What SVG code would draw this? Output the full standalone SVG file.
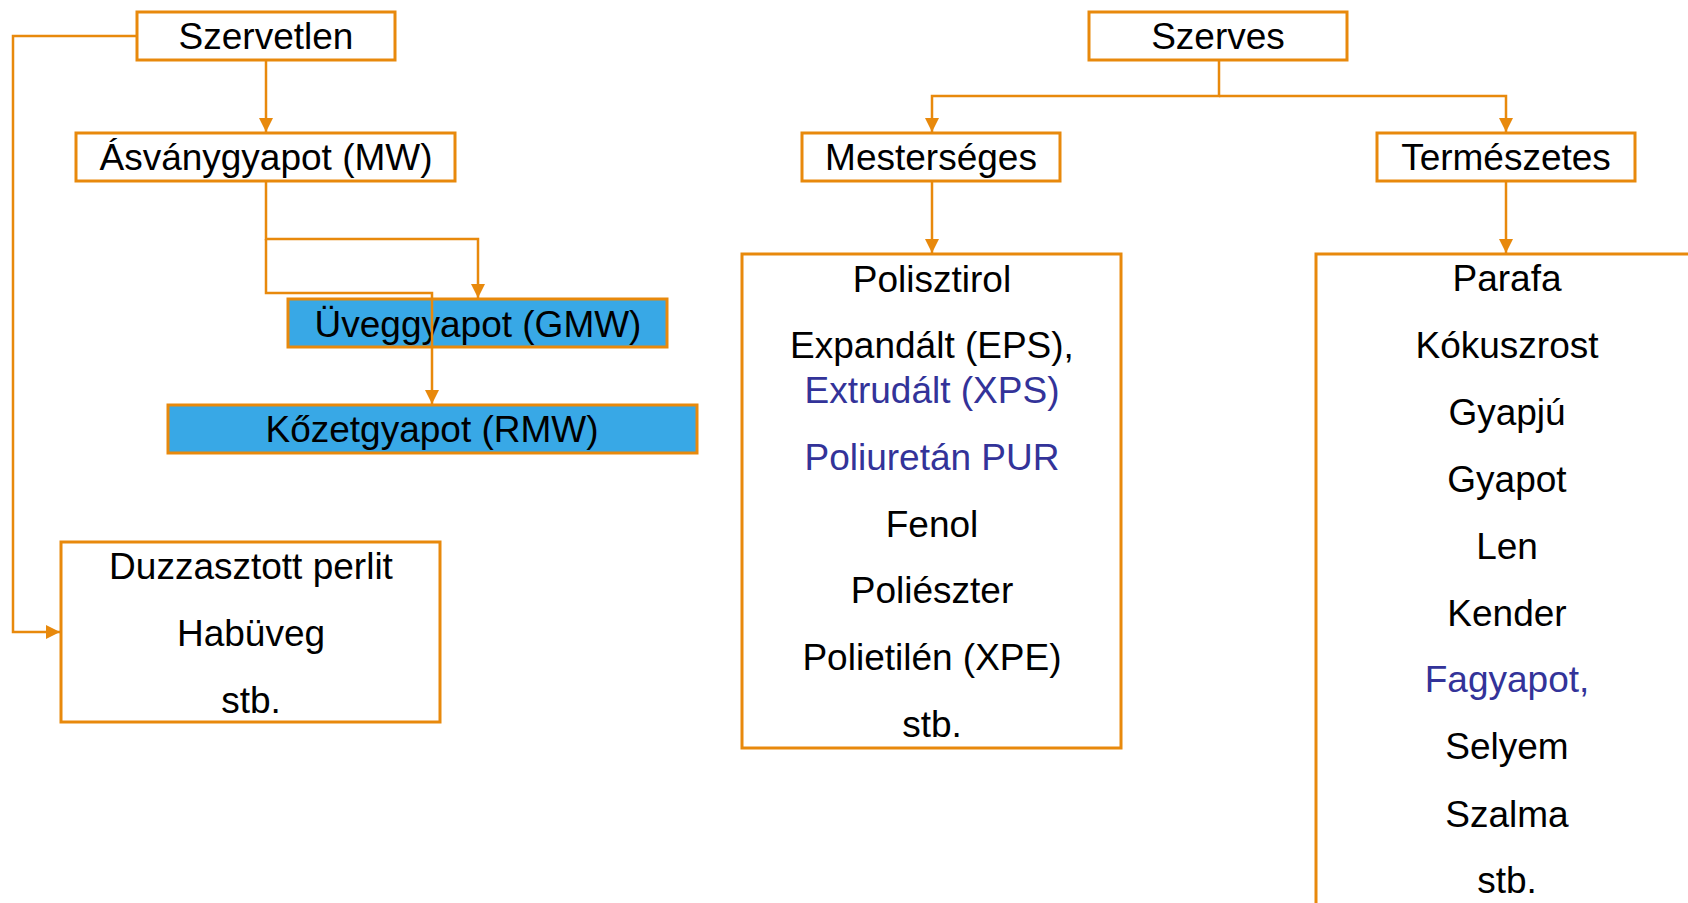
<svg xmlns="http://www.w3.org/2000/svg" width="1688" height="903" viewBox="0 0 1688 903">
<style>
.box{fill:#ffffff;stroke:#E8890C;stroke-width:3}
.blue{fill:#38A8E6;stroke:#E8890C;stroke-width:3}
.t{font-family:"Liberation Sans",Arial,sans-serif;font-size:37px;fill:#000;text-anchor:middle}
.b{fill:#333399}
.c{fill:none;stroke:#E8890C;stroke-width:2.5}
</style>
<defs>
<marker id="ah" markerUnits="userSpaceOnUse" markerWidth="14" markerHeight="14" refX="14" refY="7" orient="auto">
<path d="M0,0 L14,7 L0,14 z" fill="#E8890C"/>
</marker>
</defs>
<rect width="1688" height="903" fill="#fff"/>
<g id="szervetlen"><rect class="box" x="137" y="12" width="258" height="48"/><text class="t" x="266" y="49">Szervetlen</text></g>
<g id="asvanygyapot"><rect class="box" x="76" y="133" width="379" height="48"/><text class="t" x="266" y="170">Ásványgyapot (MW)</text></g>
<g id="uveggyapot"><rect class="blue" x="288" y="299" width="379" height="48"/><text class="t" x="478" y="337">Üveggyapot (GMW)</text></g>
<g id="kozetgyapot"><rect class="blue" x="168" y="405" width="529" height="48"/><text class="t" x="432" y="442">Kőzetgyapot (RMW)</text></g>
<g id="duzzasztott"><rect class="box" x="61" y="542" width="379" height="180"/>
<text class="t" x="251" y="579">Duzzasztott perlit</text>
<text class="t" x="251" y="646">Habüveg</text>
<text class="t" x="251" y="713">stb.</text></g>
<g id="szerves"><rect class="box" x="1089" y="12" width="258" height="48"/><text class="t" x="1218" y="49">Szerves</text></g>
<g id="mesterseges"><rect class="box" x="802" y="133" width="258" height="48"/><text class="t" x="931" y="170">Mesterséges</text></g>
<g id="termeszetes"><rect class="box" x="1377" y="133" width="258" height="48"/><text class="t" x="1506" y="170">Természetes</text></g>
<g id="mesterseges-lista"><rect class="box" x="742" y="254" width="379" height="494"/>
<text class="t" x="932" y="292">Polisztirol</text>
<text class="t" x="932" y="358">Expandált (EPS),</text>
<text class="t b" x="932" y="403">Extrudált (XPS)</text>
<text class="t b" x="932" y="470">Poliuretán PUR</text>
<text class="t" x="932" y="537">Fenol</text>
<text class="t" x="932" y="603">Poliészter</text>
<text class="t" x="932" y="670">Polietilén (XPE)</text>
<text class="t" x="932" y="737">stb.</text></g>
<g id="termeszetes-lista"><rect class="box" x="1316" y="254" width="400" height="700"/>
<text class="t" x="1507" y="291">Parafa</text>
<text class="t" x="1507" y="358">Kókuszrost</text>
<text class="t" x="1507" y="425">Gyapjú</text>
<text class="t" x="1507" y="492">Gyapot</text>
<text class="t" x="1507" y="559">Len</text>
<text class="t" x="1507" y="626">Kender</text>
<text class="t b" x="1507" y="692">Fagyapot,</text>
<text class="t" x="1507" y="759">Selyem</text>
<text class="t" x="1507" y="827">Szalma</text>
<text class="t" x="1507" y="893">stb.</text></g>
<g id="connectors">
<path class="c" d="M266,60 V132" marker-end="url(#ah)"/>
<path class="c" d="M266,181 V239 H478 V298" marker-end="url(#ah)"/>
<path class="c" d="M266,239 V293 H432 V404" marker-end="url(#ah)"/>
<path class="c" d="M137,36 H13 V632 H60" marker-end="url(#ah)"/>
<path class="c" d="M1219,60 V96 H932 V132" marker-end="url(#ah)"/>
<path class="c" d="M1219,96 H1506 V132" marker-end="url(#ah)"/>
<path class="c" d="M932,181 V253" marker-end="url(#ah)"/>
<path class="c" d="M1506,181 V253" marker-end="url(#ah)"/>
</g>
</svg>
